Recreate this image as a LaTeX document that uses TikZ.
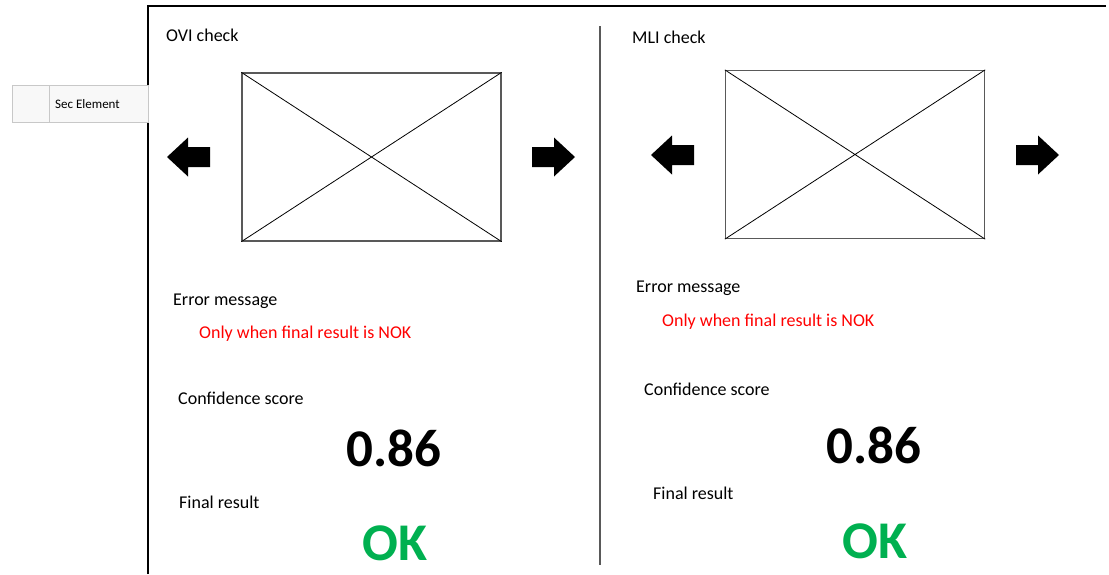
\documentclass[tikz,border=0pt]{standalone}
\usepackage{fontspec}
\setmainfont{Carlito}
\definecolor{okgreen}{HTML}{00B050}
\definecolor{nokred}{HTML}{FF0000}
\definecolor{framegray}{HTML}{595959}
\definecolor{tabline}{HTML}{C8C8C8}
\definecolor{tabfill}{HTML}{F8F8F8}
\tikzset{
  label/.style={anchor=base west, inner sep=0pt, font=\fontsize{18}{22}\selectfont},
  hint/.style={label, text=nokred},
  score/.style={anchor=base west, inner sep=0pt, font=\fontsize{53}{60}\selectfont\bfseries},
  verdict/.style={score, text=okgreen},
  imgbox/.style={draw=framegray, line width=1.3pt, inner sep=0pt, minimum width=259pt, minimum height=168pt},
  cross/.style={line width=0.8pt},
  rarr/.pic={\fill (0,-10)--(22,-10)--(22,-19.5)--(43,0)--(22,19.5)--(22,10)--(0,10)--cycle;},
  larr/.pic={\fill (0,-10)--(-22,-10)--(-22,-19.5)--(-43,0)--(-22,19.5)--(-22,10)--(0,10)--cycle;}
}
\begin{document}
\begin{tikzpicture}[x=1pt,y=-1pt]
\useasboundingbox (0,0) rectangle (1109,574);
% outer frame and panel divider
\draw[line width=1.3pt] (148,574) -- (148,6) -- (1106,6);
\draw[framegray, line width=1.2pt] (600,26) -- (600,565);
% side tab
\node[draw=tabline, fill=tabfill, line width=0.8pt, inner sep=0pt, minimum width=136pt, minimum height=37pt] (tab) at (80,103.5) {};
\draw[tabline, line width=0.8pt] (49.5,85) -- (49.5,122);
\node[anchor=base west, inner sep=0pt, font=\fontsize{13}{15}\selectfont] (tabtext) at (55,108) {Sec Element};
% left panel
\node[label] (ovi) at (166,41) {OVI check};
\node[imgbox] (imgL) at (371.5,157) {};
\draw[cross] (imgL.north west) -- (imgL.south east) (imgL.south west) -- (imgL.north east);
\pic at (210,157) {larr};
\pic at (532,157) {rarr};
\node[label] (errL) at (173,305) {Error message};
\node[hint] (hintL) at (199,338) {Only when final result is NOK};
\node[label] (confL) at (178,404) {Confidence score};
\node[score] (scoreL) at (346,466) {0.86};
\node[label] (finL) at (179,508) {Final result};
\node[verdict] (okL) at (362,560) {OK};
% right panel
\node[label] (mli) at (632,43) {MLI check};
\node[imgbox] (imgR) at (855,154.5) {};
\draw[cross] (imgR.north west) -- (imgR.south east) (imgR.south west) -- (imgR.north east);
\pic at (694,155) {larr};
\pic at (1016,155) {rarr};
\node[label] (errR) at (636,292) {Error message};
\node[hint] (hintR) at (662,326) {Only when final result is NOK};
\node[label] (confR) at (644,395) {Confidence score};
\node[score] (scoreR) at (826,463) {0.86};
\node[label] (finR) at (653,499) {Final result};
\node[verdict] (okR) at (842,558) {OK};
\end{tikzpicture}
\end{document}
